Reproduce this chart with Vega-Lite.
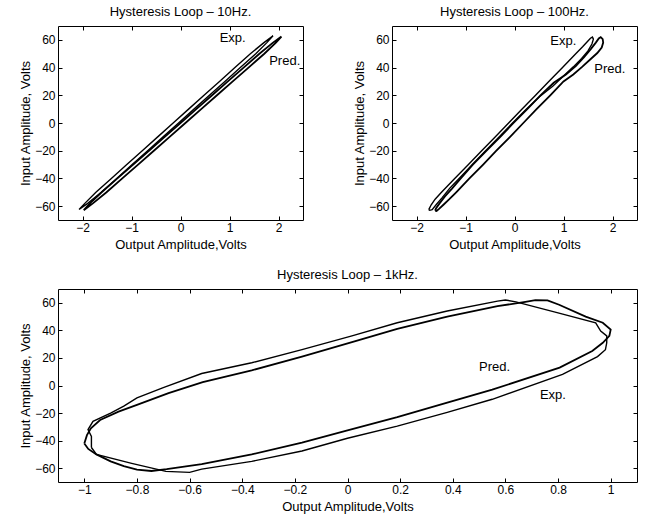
{
  "$schema": "https://vega.github.io/schema/vega-lite/v6.json",
  "background": "white",
  "padding": {"left": 19, "top": 5, "right": 5, "bottom": 5},
  "config": {
    "font": "Liberation Sans",
    "view": {"stroke": "black", "strokeWidth": 1},
    "axis": {
      "labelFont": "Liberation Sans", "labelFontSize": 12, "labelColor": "black",
      "titleFont": "Liberation Sans", "titleFontSize": 13, "titleFontWeight": "normal", "titleColor": "black",
      "tickColor": "black", "tickSize": -4, "grid": false, "domain": false
    },
    "axisX": {"labelPadding": 6, "titlePadding": 5},
    "axisY": {"labelPadding": 7, "titlePadding": 2},
    "title": {"font": "Liberation Sans", "fontSize": 13, "fontWeight": "normal", "color": "black", "offset": 7}
  },
  "datasets": {
    "hz10": [
      {"s":"Exp","i":1,"x":-2.07,"y":-62.4},{"s":"Exp","i":2,"x":-1.953,"y":-58},{"s":"Exp","i":3,"x":-1.726,"y":-50},{"s":"Exp","i":4,"x":-1.411,"y":-40},{"s":"Exp","i":5,"x":-1.096,"y":-30},{"s":"Exp","i":6,"x":-0.78,"y":-20},{"s":"Exp","i":7,"x":-0.465,"y":-10},{"s":"Exp","i":8,"x":-0.15,"y":0},{"s":"Exp","i":9,"x":0.165,"y":10},{"s":"Exp","i":10,"x":0.48,"y":20},{"s":"Exp","i":11,"x":0.796,"y":30},{"s":"Exp","i":12,"x":1.111,"y":40},{"s":"Exp","i":13,"x":1.426,"y":50},{"s":"Exp","i":14,"x":1.703,"y":58},{"s":"Exp","i":15,"x":1.888,"y":62.9},{"s":"Exp","i":16,"x":1.763,"y":58},{"s":"Exp","i":17,"x":1.536,"y":50},{"s":"Exp","i":18,"x":1.221,"y":40},{"s":"Exp","i":19,"x":0.906,"y":30},{"s":"Exp","i":20,"x":0.59,"y":20},{"s":"Exp","i":21,"x":0.275,"y":10},{"s":"Exp","i":22,"x":-0.04,"y":0},{"s":"Exp","i":23,"x":-0.355,"y":-10},{"s":"Exp","i":24,"x":-0.67,"y":-20},{"s":"Exp","i":25,"x":-0.986,"y":-30},{"s":"Exp","i":26,"x":-1.301,"y":-40},{"s":"Exp","i":27,"x":-1.616,"y":-50},{"s":"Exp","i":28,"x":-1.893,"y":-58},{"s":"Exp","i":29,"x":-2.07,"y":-62.4},
      {"s":"Pred","i":1,"x":-1.975,"y":-62.9},{"s":"Pred","i":2,"x":-1.848,"y":-58},{"s":"Pred","i":3,"x":-1.61,"y":-50},{"s":"Pred","i":4,"x":-1.288,"y":-40},{"s":"Pred","i":5,"x":-0.966,"y":-30},{"s":"Pred","i":6,"x":-0.644,"y":-20},{"s":"Pred","i":7,"x":-0.322,"y":-10},{"s":"Pred","i":8,"x":0.0,"y":0},{"s":"Pred","i":9,"x":0.322,"y":10},{"s":"Pred","i":10,"x":0.644,"y":20},{"s":"Pred","i":11,"x":0.966,"y":30},{"s":"Pred","i":12,"x":1.288,"y":40},{"s":"Pred","i":13,"x":1.61,"y":50},{"s":"Pred","i":14,"x":1.888,"y":58},{"s":"Pred","i":15,"x":2.06,"y":62.4},{"s":"Pred","i":16,"x":1.948,"y":58},{"s":"Pred","i":17,"x":1.71,"y":50},{"s":"Pred","i":18,"x":1.388,"y":40},{"s":"Pred","i":19,"x":1.066,"y":30},{"s":"Pred","i":20,"x":0.744,"y":20},{"s":"Pred","i":21,"x":0.422,"y":10},{"s":"Pred","i":22,"x":0.1,"y":0},{"s":"Pred","i":23,"x":-0.222,"y":-10},{"s":"Pred","i":24,"x":-0.544,"y":-20},{"s":"Pred","i":25,"x":-0.866,"y":-30},{"s":"Pred","i":26,"x":-1.188,"y":-40},{"s":"Pred","i":27,"x":-1.51,"y":-50},{"s":"Pred","i":28,"x":-1.788,"y":-58},{"s":"Pred","i":29,"x":-1.975,"y":-62.9}
    ],
    "hz100": [
      {"s":"Exp","i":1,"x":-1.75,"y":-62.5},{"s":"Exp","i":2,"x":-1.7,"y":-59},{"s":"Exp","i":3,"x":-1.62,"y":-55},{"s":"Exp","i":4,"x":-1.49,"y":-50},{"s":"Exp","i":5,"x":-1.22,"y":-40},{"s":"Exp","i":6,"x":-0.94,"y":-30},{"s":"Exp","i":7,"x":-0.67,"y":-20},{"s":"Exp","i":8,"x":-0.39,"y":-10},{"s":"Exp","i":9,"x":-0.12,"y":0},{"s":"Exp","i":10,"x":0.15,"y":10},{"s":"Exp","i":11,"x":0.43,"y":20},{"s":"Exp","i":12,"x":0.7,"y":30},{"s":"Exp","i":13,"x":0.98,"y":40},{"s":"Exp","i":14,"x":1.25,"y":50},{"s":"Exp","i":15,"x":1.39,"y":55},{"s":"Exp","i":16,"x":1.48,"y":58.5},{"s":"Exp","i":17,"x":1.55,"y":61.2},{"s":"Exp","i":18,"x":1.59,"y":62},{"s":"Exp","i":19,"x":1.61,"y":60.5},{"s":"Exp","i":20,"x":1.58,"y":57},{"s":"Exp","i":21,"x":1.5,"y":52},{"s":"Exp","i":22,"x":1.37,"y":46.5},{"s":"Exp","i":23,"x":1.2,"y":40.5},{"s":"Exp","i":24,"x":1.0,"y":34},{"s":"Exp","i":25,"x":0.78,"y":26.5},{"s":"Exp","i":26,"x":0.51,"y":19},{"s":"Exp","i":27,"x":0.24,"y":10},{"s":"Exp","i":28,"x":-0.04,"y":0},{"s":"Exp","i":29,"x":-0.31,"y":-10},{"s":"Exp","i":30,"x":-0.59,"y":-20},{"s":"Exp","i":31,"x":-0.86,"y":-30},{"s":"Exp","i":32,"x":-1.13,"y":-40},{"s":"Exp","i":33,"x":-1.32,"y":-47},{"s":"Exp","i":34,"x":-1.48,"y":-54},{"s":"Exp","i":35,"x":-1.6,"y":-59},{"s":"Exp","i":36,"x":-1.68,"y":-62.5},{"s":"Exp","i":37,"x":-1.73,"y":-63},{"s":"Exp","i":38,"x":-1.75,"y":-62.5},
      {"s":"Pred","i":1,"x":-1.62,"y":-63.2},{"s":"Pred","i":2,"x":-1.6,"y":-61.5},{"s":"Pred","i":3,"x":-1.53,"y":-58},{"s":"Pred","i":4,"x":-1.42,"y":-53},{"s":"Pred","i":5,"x":-1.28,"y":-47.5},{"s":"Pred","i":6,"x":-1.11,"y":-40.5},{"s":"Pred","i":7,"x":-0.85,"y":-30},{"s":"Pred","i":8,"x":-0.57,"y":-20},{"s":"Pred","i":9,"x":-0.29,"y":-10},{"s":"Pred","i":10,"x":-0.02,"y":0},{"s":"Pred","i":11,"x":0.26,"y":10},{"s":"Pred","i":12,"x":0.53,"y":20},{"s":"Pred","i":13,"x":0.8,"y":29},{"s":"Pred","i":14,"x":1.05,"y":35},{"s":"Pred","i":15,"x":1.25,"y":41},{"s":"Pred","i":16,"x":1.42,"y":47.5},{"s":"Pred","i":17,"x":1.56,"y":53.5},{"s":"Pred","i":18,"x":1.66,"y":58},{"s":"Pred","i":19,"x":1.72,"y":61},{"s":"Pred","i":20,"x":1.76,"y":62},{"s":"Pred","i":21,"x":1.8,"y":60.5},{"s":"Pred","i":22,"x":1.81,"y":58},{"s":"Pred","i":23,"x":1.78,"y":54.5},{"s":"Pred","i":24,"x":1.69,"y":50.5},{"s":"Pred","i":25,"x":1.55,"y":46},{"s":"Pred","i":26,"x":1.38,"y":40.5},{"s":"Pred","i":27,"x":1.2,"y":35},{"s":"Pred","i":28,"x":1.0,"y":30},{"s":"Pred","i":29,"x":0.73,"y":20},{"s":"Pred","i":30,"x":0.45,"y":10},{"s":"Pred","i":31,"x":0.18,"y":0},{"s":"Pred","i":32,"x":-0.09,"y":-10},{"s":"Pred","i":33,"x":-0.37,"y":-20},{"s":"Pred","i":34,"x":-0.64,"y":-30},{"s":"Pred","i":35,"x":-0.92,"y":-40},{"s":"Pred","i":36,"x":-1.19,"y":-50},{"s":"Pred","i":37,"x":-1.33,"y":-55},{"s":"Pred","i":38,"x":-1.45,"y":-59},{"s":"Pred","i":39,"x":-1.54,"y":-62},{"s":"Pred","i":40,"x":-1.59,"y":-63.5},{"s":"Pred","i":41,"x":-1.62,"y":-63.2}
    ],
    "khz1": [
      {"s":"Pred","i":1,"x":-1.0,"y":-42},{"s":"Pred","i":2,"x":-0.99,"y":-36},{"s":"Pred","i":3,"x":-0.975,"y":-31},{"s":"Pred","i":4,"x":-0.94,"y":-25},{"s":"Pred","i":5,"x":-0.87,"y":-19},{"s":"Pred","i":6,"x":-0.8,"y":-14},{"s":"Pred","i":7,"x":-0.68,"y":-5.5},{"s":"Pred","i":8,"x":-0.55,"y":2.5},{"s":"Pred","i":9,"x":-0.364,"y":11},{"s":"Pred","i":10,"x":-0.173,"y":21},{"s":"Pred","i":11,"x":0.017,"y":31.5},{"s":"Pred","i":12,"x":0.189,"y":41},{"s":"Pred","i":13,"x":0.379,"y":50},{"s":"Pred","i":14,"x":0.57,"y":57.5},{"s":"Pred","i":15,"x":0.676,"y":60.7},{"s":"Pred","i":16,"x":0.714,"y":62},{"s":"Pred","i":17,"x":0.76,"y":61.8},{"s":"Pred","i":18,"x":0.804,"y":58.6},{"s":"Pred","i":19,"x":0.905,"y":50},{"s":"Pred","i":20,"x":0.97,"y":45.5},{"s":"Pred","i":21,"x":1.0,"y":40.5},{"s":"Pred","i":22,"x":0.995,"y":36},{"s":"Pred","i":23,"x":0.97,"y":31},{"s":"Pred","i":24,"x":0.93,"y":25},{"s":"Pred","i":25,"x":0.806,"y":13},{"s":"Pred","i":26,"x":0.55,"y":-3},{"s":"Pred","i":27,"x":0.379,"y":-12.5},{"s":"Pred","i":28,"x":0.189,"y":-23},{"s":"Pred","i":29,"x":0.0,"y":-32.5},{"s":"Pred","i":30,"x":-0.173,"y":-41.5},{"s":"Pred","i":31,"x":-0.364,"y":-50},{"s":"Pred","i":32,"x":-0.554,"y":-57},{"s":"Pred","i":33,"x":-0.687,"y":-60.7},{"s":"Pred","i":34,"x":-0.745,"y":-62},{"s":"Pred","i":35,"x":-0.8,"y":-61},{"s":"Pred","i":36,"x":-0.85,"y":-58.5},{"s":"Pred","i":37,"x":-0.9,"y":-55},{"s":"Pred","i":38,"x":-0.954,"y":-50},{"s":"Pred","i":39,"x":-0.985,"y":-46},{"s":"Pred","i":40,"x":-1.0,"y":-42},
      {"s":"Exp","i":1,"x":-0.973,"y":-45},{"s":"Exp","i":2,"x":-0.973,"y":-37},{"s":"Exp","i":3,"x":-0.986,"y":-32},{"s":"Exp","i":4,"x":-0.967,"y":-26},{"s":"Exp","i":5,"x":-0.9,"y":-20},{"s":"Exp","i":6,"x":-0.85,"y":-15},{"s":"Exp","i":7,"x":-0.8,"y":-9},{"s":"Exp","i":8,"x":-0.7,"y":-1.5},{"s":"Exp","i":9,"x":-0.554,"y":8.7},{"s":"Exp","i":10,"x":-0.364,"y":16.5},{"s":"Exp","i":11,"x":-0.173,"y":26},{"s":"Exp","i":12,"x":0.017,"y":36},{"s":"Exp","i":13,"x":0.189,"y":45.5},{"s":"Exp","i":14,"x":0.379,"y":54},{"s":"Exp","i":15,"x":0.57,"y":61.2},{"s":"Exp","i":16,"x":0.6,"y":62},{"s":"Exp","i":17,"x":0.64,"y":60.7},{"s":"Exp","i":18,"x":0.8,"y":52.7},{"s":"Exp","i":19,"x":0.943,"y":45.5},{"s":"Exp","i":20,"x":0.962,"y":39.5},{"s":"Exp","i":21,"x":0.985,"y":36},{"s":"Exp","i":22,"x":0.985,"y":31},{"s":"Exp","i":23,"x":0.98,"y":26},{"s":"Exp","i":24,"x":0.95,"y":21},{"s":"Exp","i":25,"x":0.817,"y":8},{"s":"Exp","i":26,"x":0.55,"y":-10},{"s":"Exp","i":27,"x":0.379,"y":-19.5},{"s":"Exp","i":28,"x":0.189,"y":-29.5},{"s":"Exp","i":29,"x":0.0,"y":-38.3},{"s":"Exp","i":30,"x":-0.173,"y":-47.5},{"s":"Exp","i":31,"x":-0.364,"y":-55},{"s":"Exp","i":32,"x":-0.554,"y":-60.7},{"s":"Exp","i":33,"x":-0.6,"y":-63},{"s":"Exp","i":34,"x":-0.69,"y":-62.3},{"s":"Exp","i":35,"x":-0.82,"y":-56.5},{"s":"Exp","i":36,"x":-0.954,"y":-50},{"s":"Exp","i":37,"x":-0.973,"y":-45}
    ]
  },
  "spacing": 16,
  "vconcat": [
    {
      "spacing": 49,
      "hconcat": [
        {
          "title": "Hysteresis Loop – 10Hz.",
          "width": 245, "height": 194,
          "layer": [
            {
              "data": {"name": "hz10"},
              "mark": {"type": "line", "color": "black"},
              "encoding": {
                "x": {"field": "x", "type": "quantitative", "scale": {"domain": [-2.5, 2.5], "nice": false, "zero": false}, "axis": {"values": [-2, -1, 0, 1, 2], "title": "Output Amplitude,Volts"}},
                "y": {"field": "y", "type": "quantitative", "scale": {"domain": [-70, 70], "nice": false, "zero": false}, "axis": {"values": [-60, -40, -20, 0, 20, 40, 60], "title": "Input Amplitude, Volts"}},
                "detail": {"field": "s", "type": "nominal"},
                "order": {"field": "i", "type": "quantitative"},
                "strokeWidth": {"field": "s", "type": "nominal", "scale": {"domain": ["Exp", "Pred"], "range": [1.4, 1.8]}, "legend": null}
              }
            },
            {
              "data": {"values": [{"t": "Exp.", "x": 0.8, "y": 61.4}, {"t": "Pred.", "x": 1.81, "y": 44.8}]},
              "mark": {"type": "text", "align": "left", "baseline": "middle", "fontSize": 13, "font": "Liberation Sans", "color": "black"},
              "encoding": {
                "x": {"field": "x", "type": "quantitative", "axis": {"orient": "top", "labels": false, "title": null, "values": [-2, -1, 0, 1, 2]}},
                "y": {"field": "y", "type": "quantitative", "axis": {"orient": "right", "labels": false, "title": null, "values": [-60, -40, -20, 0, 20, 40, 60]}},
                "text": {"field": "t"}
              }
            }
          ],
          "resolve": {"axis": {"x": "independent", "y": "independent"}}
        },
        {
          "title": "Hysteresis Loop – 100Hz.",
          "width": 245, "height": 194,
          "layer": [
            {
              "data": {"name": "hz100"},
              "mark": {"type": "line", "color": "black"},
              "encoding": {
                "x": {"field": "x", "type": "quantitative", "scale": {"domain": [-2.5, 2.5], "nice": false, "zero": false}, "axis": {"values": [-2, -1, 0, 1, 2], "title": "Output Amplitude,Volts"}},
                "y": {"field": "y", "type": "quantitative", "scale": {"domain": [-70, 70], "nice": false, "zero": false}, "axis": {"values": [-60, -40, -20, 0, 20, 40, 60], "title": "Input Amplitude, Volts"}},
                "detail": {"field": "s", "type": "nominal"},
                "order": {"field": "i", "type": "quantitative"},
                "strokeWidth": {"field": "s", "type": "nominal", "scale": {"domain": ["Exp", "Pred"], "range": [1.4, 1.8]}, "legend": null}
              }
            },
            {
              "data": {"values": [{"t": "Exp.", "x": 0.73, "y": 59.3}, {"t": "Pred.", "x": 1.63, "y": 38.8}]},
              "mark": {"type": "text", "align": "left", "baseline": "middle", "fontSize": 13, "font": "Liberation Sans", "color": "black"},
              "encoding": {
                "x": {"field": "x", "type": "quantitative", "axis": {"orient": "top", "labels": false, "title": null, "values": [-2, -1, 0, 1, 2]}},
                "y": {"field": "y", "type": "quantitative", "axis": {"orient": "right", "labels": false, "title": null, "values": [-60, -40, -20, 0, 20, 40, 60]}},
                "text": {"field": "t"}
              }
            }
          ],
          "resolve": {"axis": {"x": "independent", "y": "independent"}}
        }
      ]
    },
    {
      "title": "Hysteresis Loop – 1kHz.",
      "width": 579, "height": 193,
      "layer": [
        {
          "data": {"name": "khz1"},
          "mark": {"type": "line", "color": "black"},
          "encoding": {
            "x": {"field": "x", "type": "quantitative", "scale": {"domain": [-1.1, 1.1], "nice": false, "zero": false}, "axis": {"values": [-1, -0.8, -0.6, -0.4, -0.2, 0, 0.2, 0.4, 0.6, 0.8, 1], "format": ".1~f", "title": "Output Amplitude,Volts"}},
            "y": {"field": "y", "type": "quantitative", "scale": {"domain": [-70, 70], "nice": false, "zero": false}, "axis": {"values": [-60, -40, -20, 0, 20, 40, 60], "title": "Input Amplitude, Volts"}},
            "detail": {"field": "s", "type": "nominal"},
            "order": {"field": "i", "type": "quantitative"},
            "strokeWidth": {"field": "s", "type": "nominal", "scale": {"domain": ["Exp", "Pred"], "range": [1.4, 2]}, "legend": null}
          }
        },
        {
          "data": {"values": [{"t": "Pred.", "x": 0.5, "y": 13.5}, {"t": "Exp.", "x": 0.731, "y": -7.2}]},
          "mark": {"type": "text", "align": "left", "baseline": "middle", "fontSize": 13, "font": "Liberation Sans", "color": "black"},
          "encoding": {
            "x": {"field": "x", "type": "quantitative", "axis": {"orient": "top", "labels": false, "title": null, "values": [-1, -0.8, -0.6, -0.4, -0.2, 0, 0.2, 0.4, 0.6, 0.8, 1]}},
            "y": {"field": "y", "type": "quantitative", "axis": {"orient": "right", "labels": false, "title": null, "values": [-60, -40, -20, 0, 20, 40, 60]}},
            "text": {"field": "t"}
          }
        }
      ],
      "resolve": {"axis": {"x": "independent", "y": "independent"}}
    }
  ]
}
